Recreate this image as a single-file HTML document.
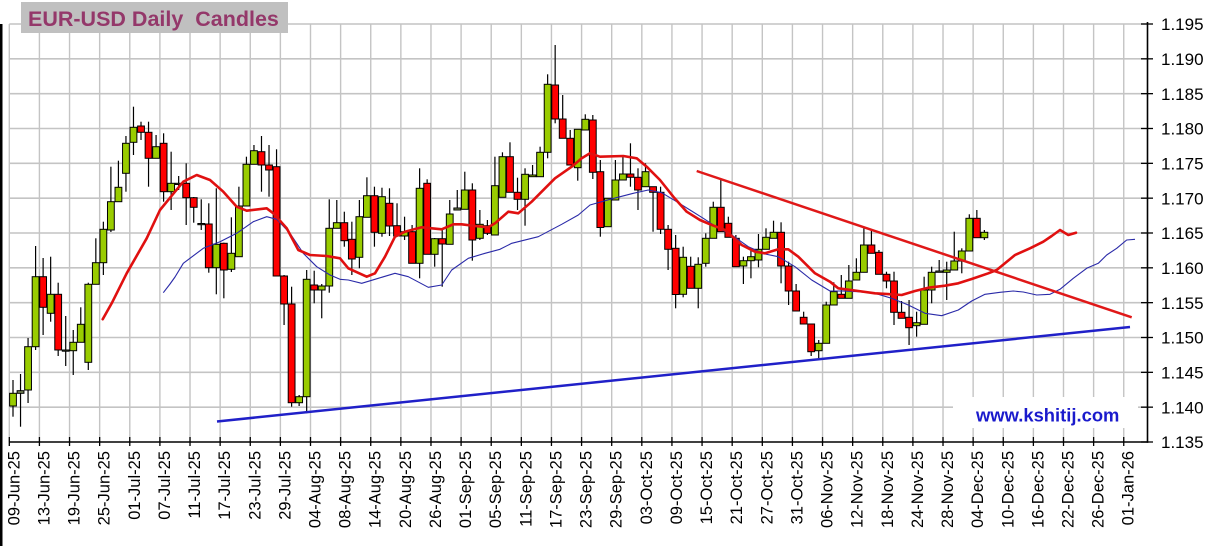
<!DOCTYPE html>
<html><head><meta charset="utf-8"><style>
html,body{margin:0;padding:0;background:#fff;width:1211px;height:546px;overflow:hidden}
svg{display:block}
text{font-family:"Liberation Sans",Arial,sans-serif}
</style></head><body>
<svg id="c" width="1211" height="546" xmlns="http://www.w3.org/2000/svg"></svg>
<script>
const NS="http://www.w3.org/2000/svg";
const svg=document.getElementById('c');
function el(tag,attrs,txt){const e=document.createElementNS(NS,tag);for(const k in attrs)e.setAttribute(k,attrs[k]);if(txt!=null)e.textContent=txt;svg.appendChild(e);return e;}
// left frame
el('rect',{x:0,y:24,width:2.5,height:522,fill:'#000'});
// grid
for(let k=0;k<12;k++){const y=24+k*34.833;el('line',{x1:9.3,y1:y,x2:1147.5,y2:y,stroke:'#c4c4c4','stroke-width':1.6});}
for(let j=0;j<38;j++){const x=9.3+j*30.12;el('line',{x1:x,y1:24,x2:x,y2:442,stroke:'#c4c4c4','stroke-width':1.4});}
// website box
el('rect',{x:953,y:397,width:185,height:31,fill:'#fff'});
el('text',{x:976,y:421.5,'font-size':18.4,'font-weight':'bold',fill:'#1a1acc'},'www.kshitij.com');
// candles
const C=[
[393.3,406,380,416.7,'g'],[390.7,393.3,374,426.7,'d'],[346.7,390,338,403,'g'],[276.7,346.7,246,350,'g'],[276.7,307.3,258,335,'r'],
[294.3,313.3,256.7,321.7,'g'],[294.3,350,282.7,356,'r'],[350,351,316,366,'d'],[342.3,350.7,330,375,'g'],[324.3,342.3,307.3,342.3,'g'],
[284.3,362.3,282.7,370,'g'],[262.7,284.3,238.3,284.3,'g'],[229.3,262.7,221.7,275,'g'],[201.7,230,166.7,232,'g'],[187.3,201.7,160.7,201.7,'g'],
[143.3,173.3,136,191.7,'g'],[127.3,142.3,106.7,155,'g'],[126,132.3,121.7,140,'r'],[132.3,158.3,121.7,186.7,'r'],[146.7,158.3,135,158.3,'g'],
[143.3,191.7,133.3,201.7,'r'],[183.3,191.7,151.7,210,'g'],[183.3,184.3,176,190,'d'],[183.3,197.7,163.3,225,'r'],[197.7,207.3,197,222.7,'r'],
[223.5,224.5,199.3,230,'d'],[224,267.7,203.3,272.7,'r'],[244.3,267.7,188.3,294.3,'g'],[243.3,270,242.7,298.3,'r'],[253.3,269.3,217.3,272,'g'],
[206,256.7,186.7,256.7,'g'],[164.3,206,156.7,206,'g'],[150.7,164.3,145,164.3,'g'],[151.7,165,136,191.7,'r'],[165,170,145,196.7,'r'],
[166.7,276,149.3,276,'r'],[276,304,275,325,'r'],[304,402.7,286.7,406.7,'r'],[396.7,402.7,395,406,'g'],[279.3,396.7,270,413.3,'g'],
[285,290,270.7,303.3,'r'],[286,290,284,318.3,'g'],[228.3,286,199.3,292.7,'g'],[222.7,228.3,200,228.3,'g'],[222.7,240.7,211.7,246.7,'r'],
[239.3,259,221.7,275,'r'],[216.7,257.3,200,268.3,'g'],[195.7,217.3,177.3,217.3,'g'],[195.7,232.3,186.7,246.7,'r'],[196.7,233.3,187.7,236.7,'g'],
[203.3,226,188.3,236,'r'],[225.7,236,203.3,236,'r'],[231.7,236,216.7,240,'g'],[231.7,263.3,225,263.3,'r'],[188.3,263.3,168.3,278.3,'g'],
[183.3,254.3,179.3,254.3,'r'],[238.7,254.3,238,266.7,'g'],[238.7,244,228.3,286.7,'r'],[214,244.3,200,244.3,'g'],[208,210,190,210,'d'],
[190,209.3,171.7,209.3,'g'],[190,240,183.3,260.7,'r'],[224.3,238.3,210,240,'g'],[225.7,233.3,220,235,'r'],[185.7,235,156.7,235,'g'],
[156.7,197.3,152.3,197.3,'g'],[156.7,192.3,142.3,192.3,'r'],[192.3,199.3,177.7,210,'r'],[174.3,199.3,168.3,225.7,'g'],[175,176.7,165,176.7,'g'],
[152.3,176.7,146.7,176.7,'g'],[84.3,152.3,74.3,158.3,'g'],[85,119,45,123.3,'r'],[119,138.3,95,138.3,'r'],[138.3,165,130,165,'r'],
[129.3,167.7,129.3,180.7,'g'],[119.3,130,114.3,130,'g'],[120,172.3,115,179,'r'],[171.7,227.5,160,236.7,'r'],[198.3,226.7,198.3,226.7,'g'],
[180,200,160,200,'g'],[174,180,155,180,'g'],[174,177.3,143.3,186.7,'r'],[177.3,190,168.3,210,'r'],[171.7,186.7,163.3,186.7,'g'],
[186.7,192.3,186.7,231.7,'r'],[192.3,229.3,186.7,234,'r'],[229.3,249.3,225,270,'r'],[248.3,294.5,235,308.3,'r'],[257.3,294.3,246.7,297.3,'g'],
[266.3,288.3,256.7,288.3,'r'],[264.3,288.3,257.3,308.3,'g'],[238.3,263.3,233.3,266.7,'g'],[207.3,238.3,201.7,238.3,'g'],[207.3,231.7,180,231.7,'r'],
[223.3,237.3,216.7,237.3,'r'],[238.3,266.7,235,266.7,'r'],[260.7,266,256.7,284,'g'],[256.7,260.7,248.3,278.3,'g'],[249.3,260,234,267.3,'g'],
[237.3,249.3,228.3,249.3,'g'],[232.3,238.3,220.7,238.3,'g'],[232.3,266,222.3,283.3,'r'],[266,291,261.7,305,'r'],[291,311,284,311,'r'],
[317.3,324,311.7,324,'r'],[324,351.7,324,356,'r'],[343.3,350.7,340,358.3,'g'],[305,343.3,301.7,343.3,'g'],[291.7,305,282.3,305,'g'],
[294.3,298.3,275,298.3,'r'],[281,298.3,265,298.3,'g'],[272.3,280,258.3,280,'g'],[245,272.3,228.3,272.3,'g'],[245,253.3,230,253.3,'r'],
[252.3,274.3,250,274.3,'r'],[274.3,281,271.7,288.3,'r'],[281,312.3,271.7,325,'r'],[312.3,318.3,301,318.3,'r'],[317.3,327.7,300,345,'r'],
[322.7,325.7,311.7,336.7,'g'],[290,324.3,276.7,324.3,'g'],[272.3,290,266.7,303.3,'g'],[271,272.3,260,272.3,'d'],[270,272.3,261.7,300,'g'],
[261,270,231.7,270,'g'],[251,261,248.3,273.3,'g'],[218.3,251,214.3,251,'g'],[218.3,237.7,210,237.7,'r'],[232.3,237.7,230,240,'g']
];
C.forEach((c,i)=>{
  const x=13+7.53*i;
  el('line',{x1:x,y1:c[2],x2:x,y2:c[3],stroke:'#000','stroke-width':1.2});
  const h=Math.max(c[1]-c[0],1.2);
  const f=c[4]=='g'?'#99cc00':(c[4]=='r'?'#ff0000':'#7a8a5a');
  el('rect',{x:(x-3.4).toFixed(2),y:c[0],width:6.8,height:h,fill:f,stroke:'#000','stroke-width':1});
});
// moving averages
const RED=[[102.7,319.3],[111.7,303.3],[126.7,273.3],[146.7,238.3],[160,210],[175,191.7],[183.3,181.7],[196.7,175],[210,180],[223.3,191.7],[236.7,206.7],[246.7,210.7],[266.7,208.3],[273.3,213.3],[286.7,228.3],[298.3,250],[310,255],[326.7,256],[340,258.3],[348.3,268.3],[366.7,276.7],[375,273.3],[385,256.7],[395,236.7],[405,231.7],[421.7,227.3],[431.7,228.3],[441.7,229.3],[453.3,224.3],[461.7,224.3],[475,226],[488.3,227.3],[495,223.3],[508.3,211.7],[518.3,213.3],[531.7,201.7],[555,178.3],[571.7,166.7],[581.7,158.3],[590,153.3],[600,156.7],[623.3,156],[636.7,158.3],[646.7,166.7],[660,180],[673.3,196.7],[686.7,211.7],[700,220],[710,224.3],[725,230],[741.7,245],[755,251.7],[765,253.3],[778.3,249.3],[788.3,249.3],[798.3,256.7],[815,273.3],[830,281.7],[838.3,288.3],[858.3,291],[875,293.3],[891.7,294.3],[901.7,295],[915,291],[928.3,287.7],[945,285.7],[958.3,283.3],[971.7,279],[988.3,273.3],[996.7,270],[1015,255],[1030,248.3],[1043.3,241.7],[1051.7,236],[1060,230],[1068.3,235],[1076,232.7]];
const BLUE=[[163.3,292.7],[170,284],[175,277],[183.3,263.3],[203.3,248.3],[220,241.7],[236.7,233.3],[253.3,221.7],[266.7,216.7],[276.7,219.3],[290,233.3],[303.3,253.3],[316.7,266.7],[330,275],[340,279.3],[348.3,280],[361.7,283.3],[378.3,278.3],[395,273.3],[408.3,276.7],[428.3,287.3],[441.7,285],[451.7,270],[468.3,258.3],[485,253.3],[500,249.3],[511.7,243.3],[538.3,236.7],[561.7,224.3],[578.3,215],[590,205],[610,199.3],[633.3,193.3],[648.3,190],[661.7,192.7],[676.7,201.7],[690,210],[703.3,218.3],[715,226],[731.7,235],[748.3,246.7],[765,254],[778.3,256.7],[795,266.7],[811.7,280],[830,291],[841.7,291],[858.3,291.7],[875,293.3],[891.7,298.3],[908.3,305],[925,313.3],[941.7,315.7],[958.3,310],[971.7,301],[985,294.3],[1000,292.3],[1013.3,291],[1023.3,292],[1036.7,295],[1050,294.3],[1060,289.3],[1073.3,278.3],[1086.7,268.3],[1098.3,263.3],[1106.7,255],[1116.7,248.3],[1126.7,240],[1135,239.3]];
function pts(a){return a.map(p=>p[0]+','+p[1]).join(' ');}
el('polyline',{points:pts(BLUE),fill:'none',stroke:'#2a2aa8','stroke-width':1.1,'stroke-linejoin':'round'});
el('polyline',{points:pts(RED),fill:'none',stroke:'#e01010','stroke-width':2.6,'stroke-linejoin':'round','stroke-linecap':'round'});
// trendlines
el('line',{x1:696.7,y1:171,x2:1131.7,y2:317.3,stroke:'#e01818','stroke-width':2.5});
el('line',{x1:217,y1:421.5,x2:1130,y2:327,stroke:'#2020c8','stroke-width':2.5});
// axes
el('line',{x1:9.3,y1:442,x2:1148.3,y2:442,stroke:'#000','stroke-width':1.6});
el('line',{x1:1147.5,y1:22,x2:1147.5,y2:442.8,stroke:'#000','stroke-width':1.6});
for(let k=0;k<13;k++){const y=24+k*34.833;
  el('line',{x1:1141,y1:y,x2:1153,y2:y,stroke:'#000','stroke-width':1.3});
  el('text',{x:1161,y:(y+6.2).toFixed(1),'font-size':17,fill:'#000'},(1.195-0.005*k).toFixed(3));
}
const D=['09-Jun-25','13-Jun-25','19-Jun-25','25-Jun-25','01-Jul-25','07-Jul-25','11-Jul-25','17-Jul-25','23-Jul-25','29-Jul-25','04-Aug-25','08-Aug-25','14-Aug-25','20-Aug-25','26-Aug-25','01-Sep-25','05-Sep-25','11-Sep-25','17-Sep-25','23-Sep-25','29-Sep-25','03-Oct-25','09-Oct-25','15-Oct-25','21-Oct-25','27-Oct-25','31-Oct-25','06-Nov-25','12-Nov-25','18-Nov-25','24-Nov-25','28-Nov-25','04-Dec-25','10-Dec-25','16-Dec-25','22-Dec-25','26-Dec-25','01-Jan-26'];
D.forEach((d,j)=>{const t=9.3+j*30.12;
  el('line',{x1:t,y1:437,x2:t,y2:446,stroke:'#000','stroke-width':1.3});
  el('text',{x:0,y:0,transform:'translate('+(t+10).toFixed(1)+',451) rotate(-90)','text-anchor':'end','font-size':16.5,fill:'#000'},d);
});
// title
el('rect',{x:21,y:2,width:267,height:31,fill:'#c0c0c0'});
const tt=el('text',{x:28,y:26,'font-size':21.5,'font-weight':'bold',fill:'#94386a'},'EUR-USD Daily  Candles');
tt.setAttribute('style','white-space:pre');
</script>
</body></html>
